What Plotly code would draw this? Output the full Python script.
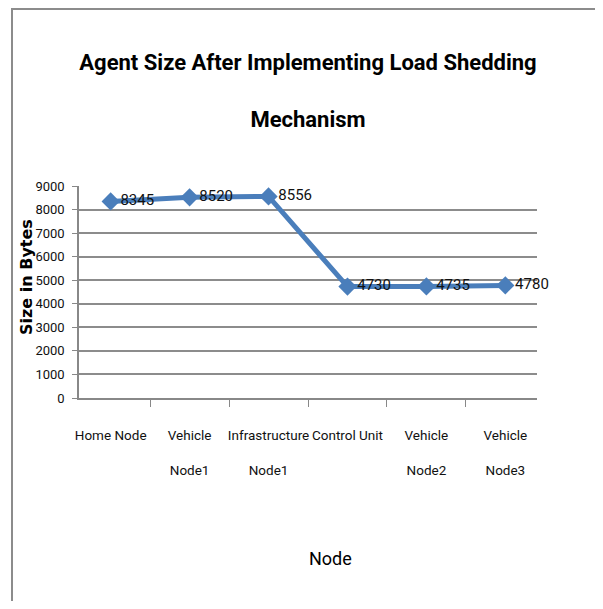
import plotly.graph_objects as go

categories = ["Home Node", "Vehicle Node1", "Infrastructure Node1", "Control Unit", "Vehicle Node2", "Vehicle Node3"]
tick_labels = ["Home Node", "Vehicle<br><br>Node1", "Infrastructure<br><br>Node1", "Control Unit", "Vehicle<br><br>Node2", "Vehicle<br><br>Node3"]
sizes = [8345, 8520, 8556, 4730, 4735, 4780]
y_ticks = [0, 1000, 2000, 3000, 4000, 5000, 6000, 7000, 8000, 9000]

FONT = "Roboto, Liberation Sans, sans-serif"

# page body has an 8px margin, so the figure is sized to fit the window
W, H = 595, 593
L, R, T, B = 71, 66, 178, 203
pw, ph = W - L - R, H - T - B

def px(x):
    return (x - L) / pw

def py(y):
    return (H - B - y) / ph

fig = go.Figure()
fig.add_trace(go.Scatter(
    x=categories, y=sizes,
    mode="lines+markers+text",
    line=dict(color="#4A7EBB", width=5),
    marker=dict(symbol="diamond", size=14, color="#4A7EBB"),
    text=[str(v) for v in sizes],
    textposition="middle right",
    textfont=dict(family=FONT, size=15, color="#111111"),
    cliponaxis=False,
    showlegend=False,
))

fig.add_shape(type="rect", xref="paper", yref="paper",
              x0=px(4), x1=px(593), y0=py(640), y1=py(1),
              line=dict(color="#8C8C8C", width=2), fillcolor="rgba(0,0,0,0)", layer="below")

fig.add_annotation(text="Node", xref="paper", yref="paper", x=px(322), y=py(550),
                   xanchor="center", yanchor="middle", showarrow=False,
                   font=dict(family=FONT, size=18, color="black"))
fig.add_annotation(text="<b>Size in Bytes</b>", xref="paper", yref="paper", x=px(18), y=py(269),
                   xanchor="center", yanchor="middle", showarrow=False, textangle=-90,
                   font=dict(family="DejaVu Sans", size=16, color="black"))

fig.update_layout(
    width=W, height=H,
    margin=dict(l=L, r=R, t=T, b=B),
    paper_bgcolor="white", plot_bgcolor="white",
    title=dict(
        text="<b>Agent Size After Implementing Load Shedding<br><br>Mechanism</b>",
        x=0.5, xanchor="center", xref="paper",
        y=1 - 62 / H, yanchor="middle",
        font=dict(family=FONT, size=22, color="black"),
    ),
    xaxis=dict(
        tickmode="array", tickvals=categories, ticktext=tick_labels,
        tickson="boundaries", ticks="outside", ticklen=7, tickcolor="#888888",
        showline=True, linecolor="#888888", linewidth=1.5,
        showgrid=False, tickangle=0,
        tickfont=dict(family=FONT, size=13.5, color="#111111"),
        ticklabelstandoff=24,
    ),
    yaxis=dict(
        range=[0, 9000], tickvals=y_ticks, ticks="outside", ticklen=5, tickcolor="#888888",
        showline=True, linecolor="#888888", linewidth=1.5,
        showgrid=True, gridcolor="#8C8C8C", gridwidth=1.5,
        zeroline=False,
        tickfont=dict(family=FONT, size=13, color="#111111"),
        ticklabelstandoff=5,
    ),
)

fig.write_html("out.html")
